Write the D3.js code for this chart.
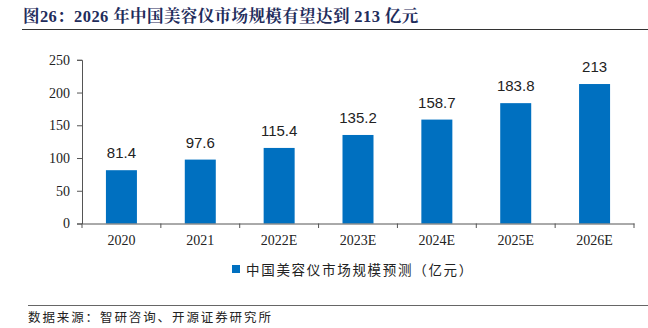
<!DOCTYPE html>
<html><head><meta charset="utf-8">
<script src="https://cdn.jsdelivr.net/npm/d3@7"></script>
<style>body{margin:0;background:#fff}svg{display:block}</style>
</head><body>
<svg id="c" width="648" height="328"></svg>
<script>
const categories = ["2020","2021","2022E","2023E","2024E","2025E","2026E"];
const values = [81.4, 97.6, 115.4, 135.2, 158.7, 183.8, 213];
const valueLabels = ["81.4","97.6","115.4","135.2","158.7","183.8","213"];
const yTicks = [0,50,100,150,200,250];
const title = "图26：2026 年中国美容仪市场规模有望达到 213 亿元";
const seriesName = "中国美容仪市场规模预测（亿元）";
const source = "数据来源：智研咨询、开源证券研究所";

const svg = d3.select("#c");
const serif = "'Liberation Serif','DejaVu Serif',serif";
const cjk = "'Noto Sans CJK SC',sans-serif";
const barColor = "#0070C0";

// title
svg.append("text").attr("x",23).attr("y",22)
  .attr("font-family","'Liberation Serif','Noto Serif CJK SC','Noto Sans CJK SC',serif")
  .attr("font-weight","bold").attr("font-size",16.5).attr("fill","#1F2D5C")
  .attr("letter-spacing",0.4)
  .text(title);
svg.append("line").attr("x1",22).attr("x2",648).attr("y1",29.5).attr("y2",29.5)
  .attr("stroke","#333").attr("stroke-width",1.2);

const xb = d3.scaleBand().domain(categories).range([82,634]);
const y = d3.scaleLinear().domain([0,250]).range([223.5,59.8]);

// y axis
const ya = svg.append("g").attr("transform","translate(82,0)")
  .call(d3.axisLeft(y).tickValues(yTicks).tickSize(5).tickPadding(7));
ya.select(".domain").attr("stroke","#555");
ya.selectAll(".tick line").attr("stroke","#555");
ya.selectAll("text").attr("font-family",serif).attr("font-size",14).attr("fill","#222");

// bars
svg.selectAll("rect.bar").data(values).join("rect").attr("class","bar")
  .attr("x",(d,i)=>xb(categories[i]) + xb.bandwidth()/2 - 15.5)
  .attr("width",31)
  .attr("y",d=>y(d)).attr("height",d=>y(0)-y(d))
  .attr("fill",barColor);

// value labels
svg.selectAll("text.val").data(values).join("text").attr("class","val")
  .attr("x",(d,i)=>xb(categories[i]) + xb.bandwidth()/2)
  .attr("y",d=>y(d)-12)
  .attr("text-anchor","middle")
  .attr("font-family","'Liberation Sans','Open Sans',sans-serif")
  .attr("font-size",15).attr("fill","#222")
  .text((d,i)=>valueLabels[i]);

// x axis
const xa = svg.append("g").attr("transform","translate(0,223.5)")
  .call(d3.axisBottom(xb).tickSize(0).tickPadding(12));
xa.select(".domain").attr("stroke","#555");
xa.selectAll("text").attr("font-family",serif).attr("font-size",14).attr("fill","#222");
// boundary ticks
const bounds = categories.map(c=>xb(c)).concat([xb.range()[1]]);
svg.selectAll("line.bt").data(bounds).join("line").attr("class","bt")
  .attr("x1",d=>d).attr("x2",d=>d).attr("y1",223.5).attr("y2",228)
  .attr("stroke","#555");

// legend
svg.append("rect").attr("x",232).attr("y",265).attr("width",8).attr("height",8).attr("fill",barColor);
svg.append("text").attr("x",246).attr("y",274.5)
  .attr("font-family",cjk).attr("font-size",13.5).attr("fill","#222")
  .attr("letter-spacing",1.7)
  .text(seriesName);

// source
svg.append("line").attr("x1",28).attr("x2",648).attr("y1",305.5).attr("y2",305.5)
  .attr("stroke","#666").attr("stroke-width",1);
svg.append("text").attr("x",28).attr("y",322)
  .attr("font-family",cjk).attr("font-size",12.5).attr("fill","#222")
  .attr("letter-spacing",1.9)
  .text(source);
</script>
</body></html>
